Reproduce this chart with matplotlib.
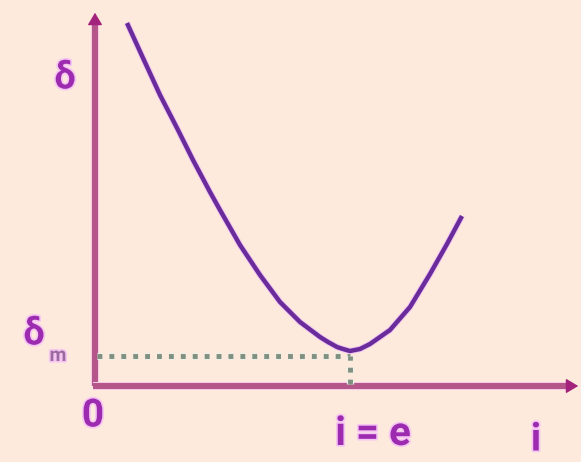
import matplotlib
matplotlib.use("Agg")
import matplotlib.pyplot as plt
import matplotlib.patheffects as pe

# Deviation curve: angle of incidence i vs angle of deviation delta
incidence = [32, 48, 65, 82, 98, 115, 125, 145, 165, 185, 205, 225, 233, 242,
             248, 255, 265, 275, 295, 315, 335, 352, 367]
deviation = [363, 328, 291, 258, 226, 194, 176, 141, 111, 84, 64, 49, 44, 39,
             37, 35, 37, 42, 56, 79, 112, 142, 170]

# Minimum-deviation marker
i_equals_e = 255
delta_min = 30

BG = "#fdeadc"
AXIS = "#b5568b"
ARROW = "#a3237c"
CURVE = "#6a2c9b"
TEXT = "#9c2bb0"
DOT = "#7f8f80"
FONT = ["Roboto", "DejaVu Sans"]

fig = plt.figure(figsize=(5.81, 4.62), dpi=100)
fig.patch.set_facecolor(BG)
ax = fig.add_axes([0, 0, 1, 1])
ax.set_facecolor(BG)
ax.set_xlim(-95, 486)
ax.set_ylim(-76, 386)
ax.axis("off")

axis_glow = [pe.withStroke(linewidth=5.8, foreground="#f7cbe8")]

# Axes with arrowheads
ax.plot([0, 0], [0, 366], color=AXIS, lw=4.3, solid_capstyle="butt", zorder=2,
        path_effects=axis_glow)
ax.plot([-2, 476], [0, 0], color=AXIS, lw=4.3, solid_capstyle="butt", zorder=2,
        path_effects=axis_glow)
ax.annotate("", xy=(0, 376), xytext=(0, 360),
            arrowprops=dict(arrowstyle="-|>,head_length=0.75,head_width=0.45",
                            color=ARROW, lw=1), zorder=3)
ax.annotate("", xy=(486, 0), xytext=(470, 0),
            arrowprops=dict(arrowstyle="-|>,head_length=0.75,head_width=0.45",
                            color=ARROW, lw=1), zorder=3)

# Dotted guide lines to the minimum
dot_glow = [pe.withStroke(linewidth=5.2, foreground="#e9f0e6")]
ax.plot([2, i_equals_e], [delta_min, delta_min], color=DOT, lw=3.5,
        dashes=(1, 1.45), zorder=2, path_effects=dot_glow)
ax.plot([i_equals_e, i_equals_e], [2, delta_min], color=DOT, lw=3.5,
        dashes=(1, 1.45), zorder=2, path_effects=dot_glow)

# Deviation curve
ax.plot(incidence, deviation, color=CURVE, lw=3.2, solid_capstyle="butt",
        solid_joinstyle="round", zorder=4,
        path_effects=[pe.withStroke(linewidth=4.6, foreground="#f3c8f4")])

text_glow = [pe.withStroke(linewidth=2.5, foreground="#f6c6f2")]
txt = dict(color=TEXT, fontweight="bold", family=FONT,
           ha="center", va="center", path_effects=text_glow)
ax.text(-30, 308, "δ", fontsize=27, **txt)
ax.text(-61, 52, "δ", fontsize=27, **txt)
ax.text(-37, 30, "m", fontsize=14, **dict(txt, color="#9b6a9e"))
ax.text(-2, -30, "0", fontsize=28, **txt)
ax.text(278, -48, "i = e", fontsize=29, **txt)
ax.text(441, -54, "i", fontsize=28, **txt)

fig.savefig("out.png", dpi=100, facecolor=BG)
